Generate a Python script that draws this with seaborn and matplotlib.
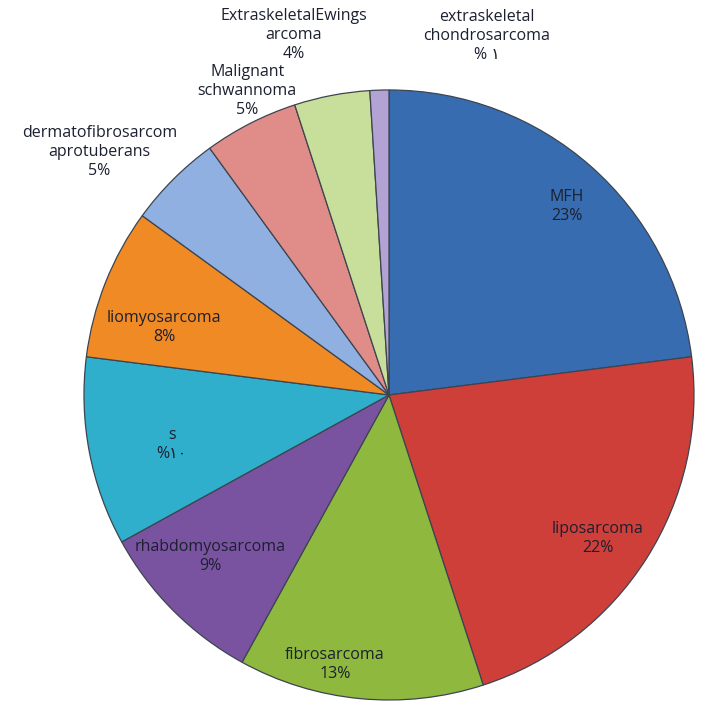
import numpy as np
import seaborn as sns
import matplotlib.pyplot as plt

# Data (percent), clockwise from 12 o'clock
tumours = ['MFH', 'liposarcoma', 'fibrosarcoma', 'rhabdomyosarcoma', 's',
           'liomyosarcoma', 'dermatofibrosarcom\naprotuberans',
           'Malignant\nschwannoma', 'ExtraskeletalEwings\narcoma',
           'extraskeletal\nchondrosarcoma']
share = [23, 22, 13, 9, 10, 8, 5, 5, 4, 1]
pct_text = ['23%', '22%', '13%', '9%', '%\u0661\u0660', '8%', '5%', '5%', '4%',
            '% \u0661']

colors = ['#376db0', '#cf3f3a', '#8fb83e', '#7a53a0', '#2fafcc',
          '#f08a25', '#8fb0e0', '#e08d89', '#c7df9a', '#b3a2d4']

# label placement: radius (pie units) and angle nudge (deg) per slice
label_r = [0.85, 0.83, 0.90, 0.79, 0.73, 0.77, 1.24, 1.10, 1.22, 1.22]
label_nudge = [-2, -2, -6, -3, 2, 5, 5, -2, 4, -17]

sns.set_theme(style='white')
plt.rcParams['font.family'] = ['Open Sans', 'DejaVu Sans']

fig = plt.figure(figsize=(7.24, 7.25), dpi=100)
ax = fig.add_axes([0, 0, 1, 1])

wedges, _ = ax.pie(share, colors=colors, startangle=90, counterclock=False,
                   wedgeprops=dict(edgecolor='#3d4450', linewidth=0.9))

for w, name, pct, r, nudge in zip(wedges, tumours, pct_text, label_r, label_nudge):
    mid = np.deg2rad((w.theta1 + w.theta2) / 2 + nudge)
    ax.text(r * np.cos(mid), r * np.sin(mid), f'{name}\n{pct}',
            ha='center', va='center', fontsize=11.5, color='#1c2030',
            linespacing=1.25)

ax.set_xlim(-1.275, 1.098)
ax.set_ylim(-1.082, 1.295)
ax.set_aspect('equal')
ax.axis('off')

fig.savefig('out.png', dpi=100, facecolor='white')
